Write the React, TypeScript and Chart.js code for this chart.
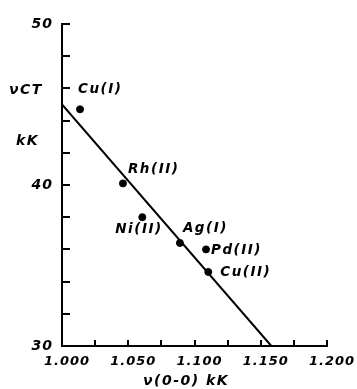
import React, { useEffect, useRef } from "react";
import { Chart, registerables } from "chart.js";

Chart.register(...registerables);

// ---- data ----
const complexes = ["Cu(I)", "Rh(II)", "Ni(II)", "Ag(I)", "Pd(II)", "Cu(II)"];
const nu00 = [1.0136, 1.046, 1.0606, 1.089, 1.1087, 1.1104];
const nuCT = [44.7, 40.1, 38.0, 36.4, 36.0, 34.6];
const fitX = [1.0, 1.158];
const fitY = [45.0, 30.0];
const xRange = [1.0, 1.2];
const yRange = [30, 50];

// label placement relative to each point (dx, dy of text left / middle)
const labelOffsets: [number, number][] = [
  [-2, -20],
  [5, -14],
  [-27, 12],
  [3, -14],
  [5, 1],
  [12, 1],
];

const FONT = '"DejaVu Sans", sans-serif';

export default function App() {
  const ref = useRef<HTMLCanvasElement | null>(null);
  useEffect(() => {
    if (!ref.current) return;
    const spacing = {
      id: "spacing",
      beforeDraw(chart: any) {
        chart.ctx.letterSpacing = "1px";
      },
    };
    const pointLabels = {
      id: "pointLabels",
      afterDatasetsDraw(chart: any) {
        const ctx = chart.ctx;
        const meta = chart.getDatasetMeta(1);
        ctx.save();
        ctx.fillStyle = "#000";
        ctx.letterSpacing = "1.5px";
        ctx.font = `italic bold 13.5px ${FONT}`;
        ctx.textAlign = "left";
        ctx.textBaseline = "middle";
        meta.data.forEach((el: any, i: number) => {
          const [dx, dy] = labelOffsets[i];
          ctx.fillText(complexes[i], el.x + dx, el.y + dy);
        });
        ctx.restore();
      },
    };
    const innerTicks = {
      id: "innerTicks",
      afterDraw(chart: any) {
        const ctx = chart.ctx;
        const { x, y } = chart.scales;
        const area = chart.chartArea;
        ctx.save();
        ctx.strokeStyle = "#000";
        ctx.lineWidth = 2;
        ctx.beginPath();
        x.ticks.forEach((t: any) => {
          const px = Math.round(x.getPixelForValue(t.value));
          ctx.moveTo(px, area.bottom);
          ctx.lineTo(px, area.bottom - 6);
        });
        y.ticks.forEach((t: any) => {
          const py = Math.round(y.getPixelForValue(t.value));
          ctx.moveTo(area.left, py);
          ctx.lineTo(area.left + 8, py);
        });
        ctx.stroke();
        // axis titles
        ctx.fillStyle = "#000";
        ctx.letterSpacing = "1.5px";
        ctx.font = `italic bold 14px ${FONT}`;
        ctx.textBaseline = "middle";
        ctx.textAlign = "left";
        ctx.fillText("νCT", 9, 90);
        ctx.fillText("kK", 16, 141);
        ctx.fillText("ν(0-0) kK", 143, 381);
        ctx.restore();
      },
    };
    const chart = new Chart(ref.current, {
      type: "scatter",
      data: {
        datasets: [
          {
            type: "line",
            data: fitX.map((v, i) => ({ x: v, y: fitY[i] })),
            borderColor: "#000",
            borderWidth: 2,
            pointRadius: 0,
            fill: false,
          } as any,
          {
            data: nu00.map((v, i) => ({ x: v, y: nuCT[i] })),
            backgroundColor: "#000",
            borderColor: "#000",
            pointRadius: 3.5,
          },
        ],
      },
      options: {
        animation: false,
        responsive: false,
        layout: { padding: { top: 24, right: 30, left: 0, bottom: 0 }, autoPadding: false } as any,
        plugins: { legend: { display: false }, tooltip: { enabled: false } },
        scales: {
          x: {
            type: "linear",
            min: xRange[0],
            max: xRange[1],
            grid: { display: false, drawTicks: false },
            border: { display: true, color: "#000", width: 2 },
            afterFit: (s: any) => {
              s.height = 43;
            },
            ticks: {
              stepSize: 0.025,
              autoSkip: false,
              maxRotation: 0,
              padding: 8,
              labelOffset: 5,
              color: "#000",
              font: { family: FONT, size: 13, style: "italic", weight: "bold" },
              callback: (v: any) => {
                const n = Number(v);
                return Math.abs(n * 20 - Math.round(n * 20)) < 1e-6 ? n.toFixed(3) : "";
              },
            },
          },
          y: {
            type: "linear",
            min: yRange[0],
            max: yRange[1],
            grid: { display: false, drawTicks: false },
            border: { display: true, color: "#000", width: 2 },
            afterFit: (s: any) => {
              s.width = 62;
            },
            ticks: {
              stepSize: 2,
              autoSkip: false,
              padding: 9,
              color: "#000",
              font: { family: FONT, size: 14, style: "italic", weight: "bold" },
              callback: (v: any) => (Number(v) % 10 === 0 ? String(v) : ""),
            },
          },
        },
      },
      plugins: [spacing, pointLabels, innerTicks],
    });
    return () => chart.destroy();
  }, []);
  return (
    <div style={{ position: "absolute", left: 0, top: 0, width: 357, height: 389, background: "#fff" }}>
      <canvas ref={ref} width={357} height={389} style={{ display: "block" }} />
    </div>
  );
}
